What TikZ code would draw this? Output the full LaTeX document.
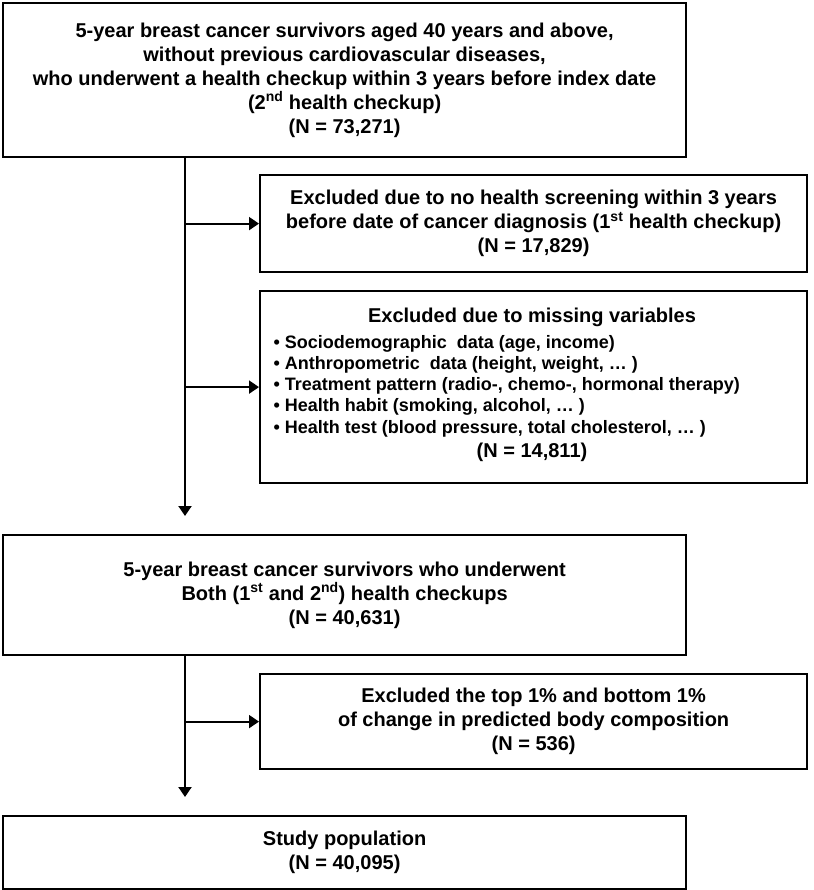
\documentclass[tikz,border=0pt]{standalone}
\usepackage{fontspec}
\setmainfont{Liberation Sans}
\usetikzlibrary{arrows.meta}

\tikzset{
  flowbox/.style={rectangle, draw, line width=2.2pt, anchor=north west, align=center, inner sep=0pt},
  flowarrow/.style={line width=2pt, -{Triangle[length=10pt,width=13pt]}}
}

\begin{document}
\begin{tikzpicture}[x=1pt, y=-1pt, font=\bfseries\fontsize{20}{24}\selectfont]

\useasboundingbox (0,0) rectangle (813,890);

% main column
\node[flowbox, minimum width=683pt, minimum height=154pt] (b1) at (2,2) {5-year breast cancer survivors aged 40 years and above,\\
without previous cardiovascular diseases,\\
who underwent a health checkup within 3 years before index date\\
(2\textsuperscript{nd} health checkup)\\
(N = 73,271)};

\node[flowbox, minimum width=683pt, minimum height=120pt] (b4) at (2,534) {5-year breast cancer survivors who underwent\\
Both (1\textsuperscript{st} and 2\textsuperscript{nd}) health checkups\\
(N = 40,631)};

\node[flowbox, minimum width=683pt, minimum height=73pt] (b6) at (2,815) {Study population\\
(N = 40,095)};

% exclusion boxes
\node[flowbox, minimum width=547pt, minimum height=97pt] (b2) at (259,174) {Excluded due to no health screening within 3 years\\
before date of cancer diagnosis (1\textsuperscript{st} health checkup)\\
(N = 17,829)};

\node[flowbox, minimum width=547pt, minimum height=192pt] (b3) at (259,290) {};
\node (b3head) at (532,317) {Excluded due to missing variables};
\node[anchor=west, align=left, font=\bfseries\fontsize{18}{21.3}\selectfont] (b3list) at (270,386) {• Sociodemographic~ data (age, income)\\
• Anthropometric~ data (height, weight, … )\\
• Treatment pattern (radio-, chemo-, hormonal therapy)\\
• Health habit (smoking, alcohol, … )\\
• Health test (blood pressure, total cholesterol, … )};
\node (b3n) at (532,452) {(N = 14,811)};

\node[flowbox, minimum width=547pt, minimum height=95pt] (b5) at (259,673) {Excluded the top 1\% and bottom 1\%\\
of change in predicted body composition\\
(N = 536)};

% connectors
\coordinate (t1) at (185,0);
\coordinate (e1) at (185,516);
\coordinate (e2) at (185,797);
\draw[flowarrow] (b1.south -| t1) -- (e1);
\draw[flowarrow] (b2.west -| t1) -- (b2.west);
\draw[flowarrow] (b3.west -| t1) -- (b3.west);
\draw[flowarrow] (b4.south -| t1) -- (e2);
\draw[flowarrow] (b5.west -| t1) -- (b5.west);

\end{tikzpicture}
\end{document}
